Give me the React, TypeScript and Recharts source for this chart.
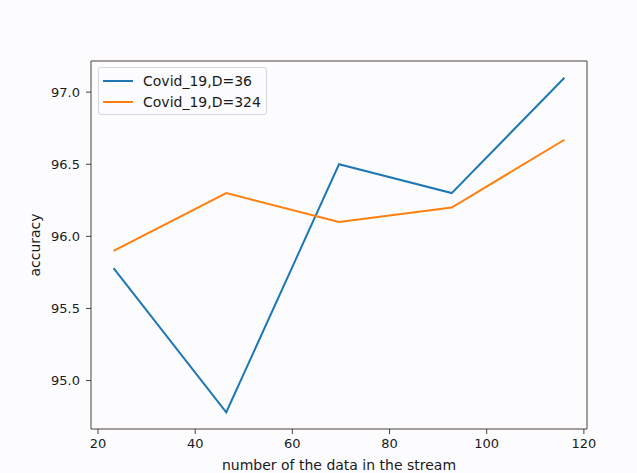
import { Legend, Line, LineChart, ReferenceLine, XAxis, YAxis } from "recharts";

const streamSizes = [23.2, 46.4, 69.6, 92.8, 116];
const accD36 = [95.78, 94.78, 96.5, 96.3, 97.1];
const accD324 = [95.9, 96.3, 96.1, 96.2, 96.67];
const xTicks = [20, 40, 60, 80, 100, 120];
const yTicks = [95.0, 95.5, 96.0, 96.5, 97.0];

const seriesNames = ["Covid_19,D=36", "Covid_19,D=324"];
const seriesColors = ["#1f77b4", "#ff7f0e"];

const rows = streamSizes.map((n, i) => ({ n, d36: accD36[i], d324: accD324[i] }));

const X_DOMAIN = [18.56, 120.64];
const Y_DOMAIN = [94.664, 97.216];
const FRAME = "#4a403a";
const INK = "#1a1a1a";
const FONT = "'DejaVu Sans', sans-serif";

const LegendBox = () => (
  <div
    style={{
      border: "1px solid #d8d8d8",
      borderRadius: 3,
      background: "#fcfcfe",
      padding: "2px 5px 2px 4px",
      fontFamily: FONT,
      fontSize: 14,
      color: INK,
    }}
  >
    {seriesNames.map((name, i) => (
      <div key={name} style={{ display: "flex", alignItems: "center", height: 21 }}>
        <span style={{ display: "inline-block", width: 30, height: 2, background: seriesColors[i], marginRight: 10 }} />
        <span>{name}</span>
      </div>
    ))}
  </div>
);

const YLabel = (props: any) => {
  const vb = props.viewBox || { x: 0, y: 61, height: 368 };
  const cx = vb.x + 35;
  const cy = vb.y + vb.height / 2;
  return (
    <text x={cx} y={cy} transform={`rotate(-90, ${cx}, ${cy})`} textAnchor="middle" dominantBaseline="central" fill={INK} fontSize={14} fontFamily={FONT}>
      accuracy
    </text>
  );
};

export default function App() {
  return (
    <div style={{ position: "absolute", left: 0, top: 0, width: 637, height: 473, background: "#fcfcfe" }}>
      <LineChart width={637} height={473} data={rows} margin={{ top: 61, right: 50, bottom: 0, left: 0 }}>
        <XAxis
          dataKey="n"
          type="number"
          domain={X_DOMAIN}
          ticks={xTicks}
          allowDataOverflow
          height={44}
          stroke={FRAME}
          tickSize={5}
          tickMargin={5}
          tick={{ fill: INK, fontSize: 13, fontFamily: FONT }}
          label={{ value: "number of the data in the stream", position: "insideBottom", offset: 3, fill: INK, fontSize: 14, fontFamily: FONT }}
        />
        <YAxis
          type="number"
          domain={Y_DOMAIN}
          ticks={yTicks}
          allowDataOverflow
          width={91}
          stroke={FRAME}
          tickSize={5}
          tickMargin={6}
          tickFormatter={(v: number) => v.toFixed(1)}
          tick={{ fill: INK, fontSize: 13, fontFamily: FONT }}
          label={{ content: YLabel }}
        />
        <ReferenceLine y={Y_DOMAIN[1]} stroke={FRAME} strokeWidth={1} />
        <ReferenceLine x={X_DOMAIN[1]} stroke={FRAME} strokeWidth={1} />
        <Legend
          layout="vertical"
          verticalAlign="middle"
          align="center"
          wrapperStyle={{ left: 98, top: 67, width: "auto", height: "auto" }}
          content={() => <LegendBox />}
        />
        <Line dataKey="d36" name={seriesNames[0]} stroke={seriesColors[0]} strokeWidth={2} dot={false} isAnimationActive={false} />
        <Line dataKey="d324" name={seriesNames[1]} stroke={seriesColors[1]} strokeWidth={2} dot={false} isAnimationActive={false} />
      </LineChart>
    </div>
  );
}
